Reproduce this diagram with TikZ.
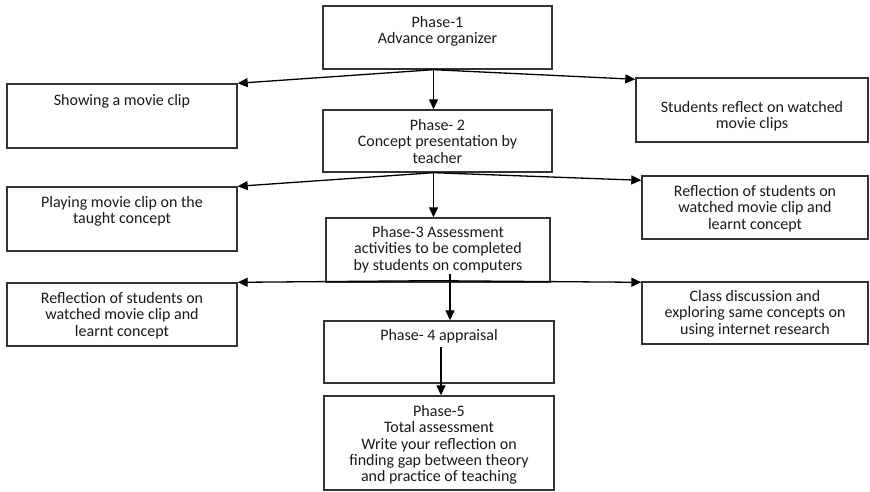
\documentclass[tikz,border=0pt]{standalone}
\usepackage{fontspec}
\setmainfont{Carlito}
\usetikzlibrary{arrows.meta,positioning}

\tikzset{
    phasebox/.style={draw=black!80, line width=1.4pt, inner sep=0pt},
    boxtext/.style={align=center, inner sep=0pt, text=black!90, font=\fontsize{16}{16.3}\selectfont},
    flow/.style={line width=1.3pt, -{Triangle[length=10pt,width=9pt]}}
}

\begin{document}
\begin{tikzpicture}[x=1pt, y=-1pt]
        \useasboundingbox (0,0) rectangle (870,492);

        \node[phasebox, minimum width=229pt, minimum height=63pt](p1) at (437.5,37.5){};
        \node[phasebox, minimum width=229pt, minimum height=62pt](p2) at (437.5,141){};
        \node[phasebox, minimum width=224pt, minimum height=64pt](p3) at (438,250){};
        \node[phasebox, minimum width=230pt, minimum height=62pt](p4) at (439,352){};
        \node[phasebox, minimum width=230pt, minimum height=94pt](p5) at (439,443){};

        \node[phasebox, minimum width=230pt, minimum height=64pt](show) at (122,116){};
        \node[phasebox, minimum width=230pt, minimum height=64pt](play) at (122,219){};
        \node[phasebox, minimum width=230pt, minimum height=63pt](reflL) at (122,314.5){};
        \node[phasebox, minimum width=232pt, minimum height=64pt](stud) at (752,110){};
        \node[phasebox, minimum width=226pt, minimum height=63pt](reflR) at (755,207.5){};
        \node[phasebox, minimum width=226pt, minimum height=62pt](class) at (755,313){};

        \node[boxtext, below=11pt of p1.north](p1t){Phase-1\\Advance organizer};
        \node[boxtext, below=10pt of p2.north](p2t){Phase- 2\\Concept presentation by\\teacher};
        \node[boxtext, below=9pt of p3.north](p3t){Phase-3 Assessment\\activities to be completed\\by students on computers};
        \node[boxtext, below=9pt of p4.north](p4t){Phase- 4 appraisal};
        \node[boxtext, below=10pt of p5.north](p5t){Phase-5\\Total assessment\\Write your reflection on\\finding gap between theory\\and practice of teaching};

        \node[boxtext, below=11pt of show.north](showt){Showing a movie clip};
        \node[boxtext, below=10pt of play.north](playt){Playing movie clip on the\\taught concept};
        \node[boxtext, below=10pt of reflL.north](reflLt){Reflection of students on\\watched movie clip and\\learnt concept};
        \node[boxtext, below=24pt of stud.north](studt){Students reflect on watched\\movie clips};
        \node[boxtext, below=10pt of reflR.north](reflRt){Reflection of students on\\watched movie clip and\\learnt concept};
        \node[boxtext, below=9pt of class.north](classt){Class discussion and\\exploring same concepts on\\using internet research};

        \draw[flow] ([xshift=-4pt]p1.south) -- ([xshift=-4pt]p2.north);
        \draw[flow] ([xshift=-4pt]p1.south) -- (show.north east);
        \draw[flow] ([xshift=-4pt]p1.south) -- ([yshift=-2pt]stud.north west);

        \draw[flow] ([xshift=-4pt]p2.south) -- ([xshift=-4pt]p2.south |- p3.north);
        \draw[flow] ([xshift=-4pt]p2.south) -- (play.north east);
        \draw[flow] ([xshift=-4pt]p2.south) -- ([yshift=-5pt]reflR.north west);

        \draw[flow] ([xshift=-5pt, yshift=2pt]p3.south) -- (reflL.north east);
        \draw[flow] ([xshift=-5pt, yshift=2pt]p3.south) -- ([yshift=-1pt]class.north west);
        \draw[flow] ([xshift=12pt, yshift=9pt]p3.south) -- ([xshift=11pt]p4.north);

        \draw[flow] ([xshift=2pt, yshift=5pt]p4.center) -- ([xshift=2pt]p5.north);
    \end{tikzpicture}
\end{document}
